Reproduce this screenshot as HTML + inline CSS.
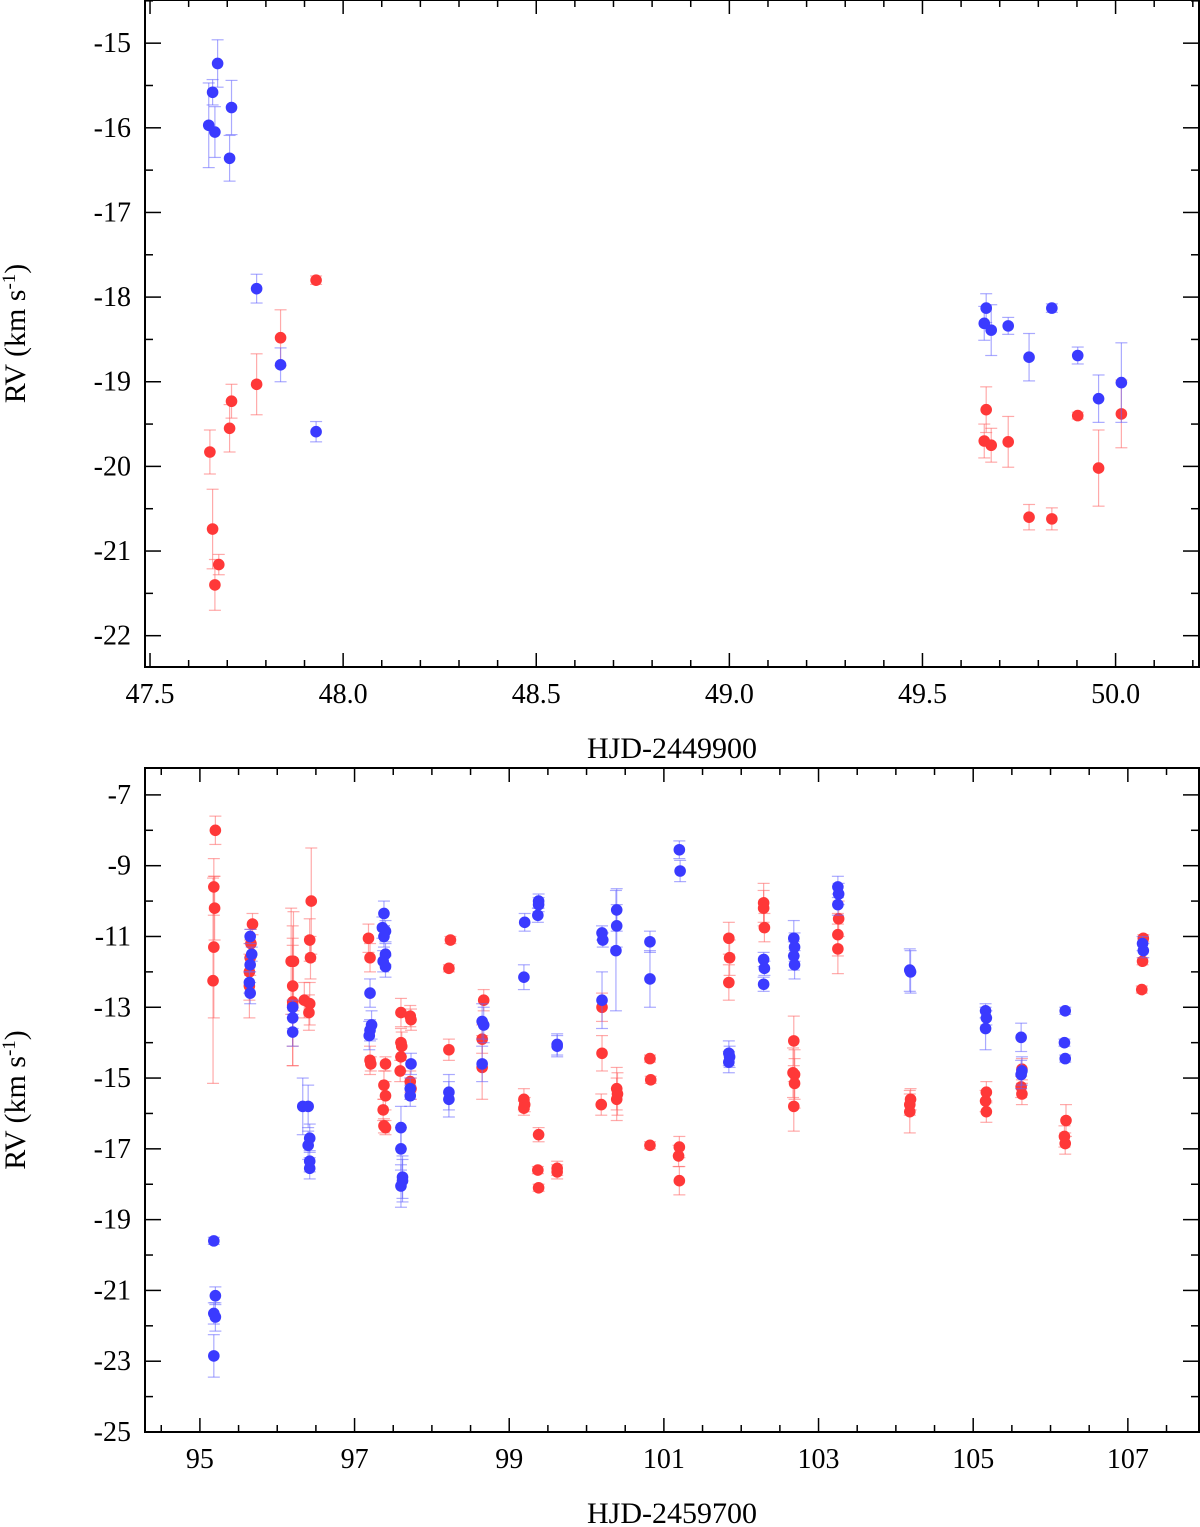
<!DOCTYPE html>
<html><head><meta charset="utf-8">
<style>
html,body{margin:0;padding:0;background:#fff;}
svg{display:block;font-family:"Liberation Serif",serif;}
</style></head>
<body>
<svg id="chart" width="1200" height="1527" viewBox="0 0 1200 1527" xmlns="http://www.w3.org/2000/svg"></svg>
<script>
// ---------- Top panel data (x = HJD-2449900, y = RV km/s, e = error) ----------
const topBlueX = [47.652,47.662,47.675,47.668,47.711,47.706,47.776,47.838,47.93,49.665,49.66,49.678,49.722,49.776,49.835,49.902,49.956,50.015];
const topBlueY = [-15.97,-15.58,-15.24,-16.05,-15.76,-16.36,-17.9,-18.8,-19.59,-18.13,-18.31,-18.39,-18.34,-18.71,-18.13,-18.69,-19.2,-19.01];
const topBlueE = [0.5,0.15,0.28,0.3,0.32,0.27,0.17,0.2,0.12,0.17,0.2,0.3,0.1,0.28,0.05,0.1,0.28,0.47];
const topRedX = [47.655,47.662,47.668,47.678,47.706,47.711,47.776,47.838,47.93,49.665,49.66,49.678,49.722,49.776,49.835,49.902,49.956,50.015];
const topRedY = [-19.83,-20.74,-21.4,-21.16,-19.55,-19.23,-19.03,-18.48,-17.8,-19.33,-19.7,-19.75,-19.71,-20.6,-20.62,-19.4,-20.02,-19.38];
const topRedE = [0.26,0.47,0.3,0.12,0.28,0.2,0.36,0.33,0.05,0.27,0.2,0.2,0.3,0.15,0.13,0.04,0.45,0.4];
const topXTicks = ["47.5","48.0","48.5","49.0","49.5","50.0"];
const topYTicks = [-15,-16,-17,-18,-19,-20,-21,-22];

// ---------- Bottom panel data (x = HJD-2459700) ----------
const botBlue = [
 [95.18,-19.6,0.1],[95.2,-21.15,0.25],[95.18,-21.65,0.3],[95.2,-21.75,0.4],[95.18,-22.85,0.6],
 [95.65,-11.0,0.2],[95.67,-11.5,0.2],[95.65,-11.8,0.2],[95.64,-12.3,0.3],[95.65,-12.6,0.3],
 [96.2,-13.0,0.2],[96.2,-13.3,0.3],[96.2,-13.7,0.4],
 [96.33,-15.8,0.8],[96.4,-15.8,0.6],[96.42,-16.7,0.4],[96.4,-16.9,0.4],[96.42,-17.35,0.3],[96.42,-17.55,0.3],
 [97.2,-12.6,0.4],[97.22,-13.5,0.4],[97.2,-13.65,0.3],[97.19,-13.8,0.4],
 [97.38,-10.35,0.35],[97.36,-10.75,0.3],[97.4,-10.85,0.3],[97.38,-11.0,0.3],[97.4,-11.5,0.3],[97.37,-11.7,0.3],[97.4,-11.85,0.3],
 [97.6,-16.4,0.6],[97.6,-17.0,0.6],[97.62,-17.8,0.6],[97.62,-17.9,0.6],[97.6,-18.05,0.6],
 [97.73,-14.6,0.3],[97.72,-15.3,0.3],[97.72,-15.5,0.3],
 [98.22,-15.4,0.5],[98.22,-15.6,0.5],
 [98.65,-13.4,0.5],[98.67,-13.5,0.5],[98.65,-14.6,0.5],
 [99.2,-10.6,0.25],[99.19,-12.15,0.35],
 [99.38,-10.0,0.2],[99.38,-10.1,0.2],[99.37,-10.4,0.2],
 [99.62,-14.05,0.3],[99.62,-14.1,0.3],
 [100.2,-10.9,0.2],[100.21,-11.1,0.2],[100.2,-12.8,0.8],
 [100.39,-10.25,0.6],[100.39,-10.7,0.6],[100.38,-11.4,1.7],
 [100.82,-11.15,0.3],[100.82,-12.2,0.8],
 [101.2,-8.55,0.25],[101.21,-9.15,0.3],
 [101.84,-14.3,0.35],[101.85,-14.4,0.3],[101.84,-14.55,0.3],
 [102.29,-11.65,0.2],[102.3,-11.9,0.2],[102.29,-12.35,0.2],
 [102.68,-11.05,0.5],[102.69,-11.3,0.4],[102.68,-11.55,0.4],[102.69,-11.8,0.4],
 [103.25,-9.6,0.3],[103.26,-9.8,0.3],[103.25,-10.1,0.3],
 [104.18,-11.95,0.6],[104.19,-12.0,0.6],
 [105.16,-13.1,0.2],[105.17,-13.3,0.2],[105.16,-13.6,0.6],
 [105.62,-13.85,0.4],[105.63,-14.8,0.4],[105.62,-14.9,0.4],
 [106.19,-13.1,0.1],[106.18,-14.0,0.1],[106.19,-14.45,0.1],
 [107.19,-11.2,0.2],[107.2,-11.4,0.2]
];
const botRed = [
 [95.2,-8.0,0.4],[95.18,-9.6,0.8],[95.19,-10.2,0.9],[95.18,-11.3,2.0],[95.17,-12.25,2.9],
 [95.68,-10.65,0.3],[95.66,-11.2,0.4],[95.65,-11.6,0.5],[95.64,-12.0,0.8],[95.64,-12.4,0.9],
 [96.18,-11.7,1.5],[96.21,-11.7,1.4],[96.2,-12.4,1.7],[96.2,-12.85,1.8],[96.2,-12.95,1.7],
 [96.35,-12.8,0.5],[96.44,-10.0,1.5],[96.42,-11.1,0.6],[96.43,-11.6,0.6],[96.42,-12.9,0.6],[96.41,-13.15,0.5],
 [97.18,-11.05,0.4],[97.2,-11.6,0.4],[97.2,-14.5,0.4],[97.21,-14.6,0.2],
 [97.4,-14.6,0.2],[97.38,-15.2,0.4],[97.4,-15.5,0.4],[97.37,-15.9,0.3],[97.38,-16.35,0.2],[97.4,-16.4,0.2],
 [97.6,-13.15,0.4],[97.6,-14.0,0.4],[97.61,-14.1,0.4],[97.6,-14.4,0.4],[97.59,-14.8,0.3],
 [97.72,-13.25,0.3],[97.73,-13.35,0.3],[97.72,-15.1,0.3],[97.73,-15.3,0.3],
 [98.24,-11.1,0.1],[98.22,-11.9,0.1],[98.22,-14.2,0.3],
 [98.67,-12.8,0.3],[98.65,-13.9,0.4],[98.65,-14.7,0.9],
 [99.19,-15.6,0.3],[99.2,-15.75,0.2],[99.19,-15.85,0.2],
 [99.38,-16.6,0.2],[99.37,-17.6,0.1],[99.38,-18.1,0.1],
 [99.62,-17.55,0.2],[99.62,-17.65,0.2],
 [100.2,-13.0,0.4],[100.2,-14.3,0.5],[100.19,-15.75,0.3],
 [100.39,-15.3,0.6],[100.4,-15.45,0.6],[100.39,-15.6,0.6],
 [100.82,-14.45,0.1],[100.83,-15.05,0.1],[100.82,-16.9,0.1],
 [101.2,-16.95,0.3],[101.19,-17.2,0.3],[101.2,-17.9,0.4],
 [101.84,-11.05,0.45],[101.85,-11.6,0.5],[101.84,-12.3,0.5],
 [102.29,-10.05,0.55],[102.29,-10.2,0.5],[102.3,-10.75,0.4],
 [102.68,-13.95,0.7],[102.67,-14.85,0.7],[102.69,-14.9,0.7],[102.69,-15.15,0.7],[102.68,-15.8,0.7],
 [103.26,-10.5,0.5],[103.25,-10.95,0.6],[103.25,-11.35,0.7],
 [104.19,-15.6,0.3],[104.18,-15.75,0.3],[104.18,-15.95,0.6],
 [105.17,-15.4,0.3],[105.16,-15.65,0.3],[105.17,-15.95,0.3],
 [105.63,-14.75,0.3],[105.62,-15.25,0.3],[105.63,-15.45,0.3],
 [106.2,-16.2,0.45],[106.18,-16.65,0.3],[106.19,-16.85,0.3],
 [107.2,-11.05,0.1],[107.19,-11.7,0.1],[107.18,-12.5,0.1]
];
const botXTicks = [95,97,99,101,103,105,107];
const botYTicks = [-7,-9,-11,-13,-15,-17,-19,-21,-23,-25];

const NS = "http://www.w3.org/2000/svg";
const svg = document.getElementById("chart");
function mk(tag, attrs, parent){
  const el = document.createElementNS(NS, tag);
  for (const k in attrs) el.setAttribute(k, attrs[k]);
  (parent||svg).appendChild(el);
  return el;
}

function panel(cfg){
  const g = mk("g", {});
  
  
  const L=145, R=1199, T=cfg.top, B=cfg.bottom;
  const sx = v => L + (v - cfg.x0) / (cfg.x1 - cfg.x0) * (R - L);
  const sy = v => T + (cfg.y0 - v) / (cfg.y0 - cfg.y1) * (B - T);
  const frame = mk("rect", {x:L, y:T, width:R-L, height:B-T, fill:"none", stroke:"#000", "stroke-width":2}, g);
  
  
  for (let v = cfg.xMinorStart; v <= cfg.x1 + 1e-9; v += cfg.xMinor){
    const isMaj = Math.abs(((v - cfg.xMajStart) / cfg.xMajor) - Math.round((v - cfg.xMajStart) / cfg.xMajor)) < 1e-6;
    const len = isMaj ? 14 : 7;
    const x = sx(v);
    if (x < L || x > R) continue;
    mk("line", {x1:x, x2:x, y1:B, y2:B-len, stroke:"#000", "stroke-width":1.5}, g);
    mk("line", {x1:x, x2:x, y1:T, y2:T+len, stroke:"#000", "stroke-width":1.5}, g);
  }
  cfg.xLabels.forEach(s => {
    const t = mk("text", {x:sx(parseFloat(s)), y:B+36, "text-anchor":"middle", "font-size":28, fill:"#000"}, g);
    t.textContent = s;
    
    
  });
  for (let v = cfg.yMinorStart; v >= cfg.y1 - 1e-9; v -= cfg.yMinor){
    const isMaj = cfg.yLabels.some(l => Math.abs(l - v) < 1e-6);
    const len = isMaj ? 16 : 8;
    const y = sy(v);
    if (y < T || y > B) continue;
    mk("line", {x1:L, x2:L+len, y1:y, y2:y, stroke:"#000", "stroke-width":1.5}, g);
    mk("line", {x1:R, x2:R-len, y1:y, y2:y, stroke:"#000", "stroke-width":1.5}, g);
  }
  cfg.yLabels.forEach(v => {
    const t = mk("text", {x:L-14, y:sy(v)+9, "text-anchor":"end", "font-size":28, fill:"#000"}, g);
    t.textContent = String(v);
    
    
  });
  const xt = mk("text", {x:(L+R)/2, y:cfg.xTitleY, "text-anchor":"middle", "font-size":30, fill:"#000"}, g);
  xt.textContent = cfg.xTitle;
  
  
  const yc = (T+B)/2;
  const yt = mk("text", {x:25, y:yc, transform:`rotate(-90 25 ${yc})`, "text-anchor":"middle", "font-size":30, fill:"#000"}, g);
  yt.innerHTML = 'RV (km s<tspan dy="-10" font-size="19">-1</tspan><tspan dy="10">)</tspan>';
  
  
  cfg.series.forEach(s => {
    const sg = mk("g", {}, g);
    
    
    s.pts.forEach(p => {
      const x = sx(p[0]), y = sy(p[1]);
      const y1 = sy(p[1]+p[2]), y2 = sy(p[1]-p[2]);
      mk("line", {x1:x, x2:x, y1:y1, y2:y2, stroke:s.err, "stroke-width":1.2}, sg);
      mk("line", {x1:x-6, x2:x+6, y1:y1, y2:y1, stroke:s.err, "stroke-width":1.2}, sg);
      mk("line", {x1:x-6, x2:x+6, y1:y2, y2:y2, stroke:s.err, "stroke-width":1.2}, sg);
    });
    s.pts.forEach(p => {
      const c = mk("circle", {cx:sx(p[0]), cy:sy(p[1]), r:5.8, fill:s.color}, sg);
      
      
    });
  });
}

const zip = (X,Y,E) => X.map((x,i)=>[x,Y[i],E[i]]);

panel({
  name:"top-panel", top:0, bottom:667,
  x0:47.487, x1:50.216, y0:-14.49, y1:-22.37,
  xMinorStart:47.5, xMinor:0.1, xMajStart:47.5, xMajor:0.5, xLabels:topXTicks,
  yMinorStart:-14.5, yMinor:0.5, yLabels:topYTicks,
  xTitle:"HJD-2449900", xTitleY:758,
  series:[
    {name:"top-red-series", color:"#ff3838", err:"rgba(255,100,100,0.55)", pts:zip(topRedX,topRedY,topRedE)},
    {name:"top-blue-series", color:"#3a3aff", err:"rgba(100,100,255,0.55)", pts:zip(topBlueX,topBlueY,topBlueE)}
  ]
});

panel({
  name:"bottom-panel", top:768, bottom:1432,
  x0:94.29, x1:107.92, y0:-6.24, y1:-25,
  xMinorStart:94.5, xMinor:0.5, xMajStart:95, xMajor:2, xLabels:botXTicks.map(String),
  yMinorStart:-7, yMinor:1, yLabels:botYTicks,
  xTitle:"HJD-2459700", xTitleY:1523,
  series:[
    {name:"bottom-red-series", color:"#ff3838", err:"rgba(255,100,100,0.55)", pts:botRed},
    {name:"bottom-blue-series", color:"#3a3aff", err:"rgba(100,100,255,0.55)", pts:botBlue}
  ]
});
</script>
</body></html>
